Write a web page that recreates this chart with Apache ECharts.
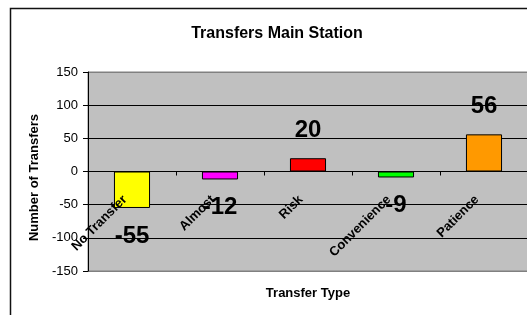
<!DOCTYPE html>
<html>
<head>
<meta charset="utf-8">
<script src="https://cdn.jsdelivr.net/npm/echarts@6/dist/echarts.min.js"></script>
<style>
    html, body { margin: 0; padding: 0; background: #fff; }
    #chart { width: 527px; height: 315px; }
</style>
</head>
<body>
<div id="chart"></div>
<script>
var categories = ['No Transfer', 'Almost', 'Risk', 'Convenience', 'Patience'];
var transfers = [-55, -12, 20, -9, 56];
var barColors = ['#FFFF00', '#FF00FF', '#FF0000', '#00FF00', '#FF9900'];
var yTicks = [-150, 150, 50];   // min, max, interval

var FONT = 'Arial, "Liberation Sans", sans-serif';

function buildData() {
    var out = [];
    for (var i = 0; i < transfers.length; i++) {
        out.push({
            value: transfers[i],
            itemStyle: { color: barColors[i] },
            label: { position: transfers[i] < 0 ? 'bottom' : 'top' }
        });
    }
    return out;
}

var myChart = echarts.init(document.getElementById('chart'));

myChart.setOption({
    animation: false,
    backgroundColor: '#fff',
    title: {
        text: 'Transfers Main Station',
        left: 272,
        top: 21,
        textAlign: 'center',
        textStyle: { fontFamily: FONT, fontSize: 16, fontWeight: 'bold', color: '#000' }
    },
    graphic: [{
        type: 'rect',
        shape: { x: 10.5, y: 8.5, width: 600, height: 400 },
        style: { fill: null, stroke: '#111', lineWidth: 1.5 },
        z: -10
    }],
    grid: {
        left: 88,
        top: 72,
        width: 440,
        height: 199,
        outerBoundsMode: 'none',
        containLabel: false,
        show: true,
        backgroundColor: '#C0C0C0',
        borderColor: '#808080',
        borderWidth: 1
    },
    xAxis: {
        type: 'category',
        data: categories,
        z: 3,
        // sit the axis (line, ticks, labels) on the zero line
        offset: -99.5,
        name: 'Transfer Type',
        nameLocation: 'middle',
        nameGap: 115,
        nameTextStyle: { fontFamily: FONT, fontSize: 13, fontWeight: 'bold', color: '#000' },
        axisLine: { onZero: false, lineStyle: { color: '#000', width: 1 } },
        axisTick: { show: true, length: 4, lineStyle: { color: '#000' } },
        axisLabel: {
            rotate: 45,
            margin: 19,
            padding: [0, 10, 0, 0],
            fontFamily: FONT,
            fontSize: 13,
            fontWeight: 'bold',
            color: '#000'
        },
        splitLine: { show: false }
    },
    yAxis: {
        type: 'value',
        min: yTicks[0],
        max: yTicks[1],
        interval: yTicks[2],
        name: 'Number of Transfers',
        nameLocation: 'middle',
        nameGap: 45,
        nameRotate: 90,
        nameTextStyle: { fontFamily: FONT, fontSize: 13, fontWeight: 'bold', color: '#000', padding: [0, 12, 0, 0] },
        axisLine: { show: true, lineStyle: { color: '#000', width: 1 } },
        axisTick: { show: true, length: 5, lineStyle: { color: '#000' } },
        axisLabel: { margin: 10, fontFamily: FONT, fontSize: 13, color: '#000' },
        splitLine: {
            show: true,
            lineStyle: {
                color: ['#808080', '#000', '#000', '#000', '#000', '#000', '#808080'],
                width: 1
            }
        }
    },
    series: [{
        type: 'bar',
        data: buildData(),
        barCategoryGap: '59%',
        itemStyle: { borderColor: '#000', borderWidth: 1 },
        label: {
            show: true,
            distance: 16,
            fontFamily: FONT,
            fontSize: 24,
            fontWeight: 'bold',
            color: '#000'
        }
    }]
});
</script>
</body>
</html>
